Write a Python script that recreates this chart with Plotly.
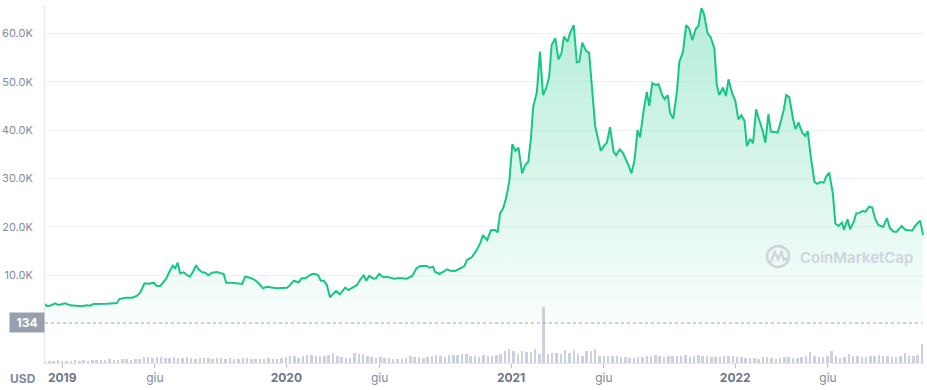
import plotly.graph_objects as go
import pandas as pd

# ---- price series (USD) ----
price_dates = [
    "2018-12-04","2018-12-07","2018-12-12","2018-12-21","2018-12-26","2019-01-06","2019-01-14","2019-01-25",
    "2019-02-02","2019-02-10","2019-02-16","2019-02-21","2019-03-04","2019-03-15","2019-03-31","2019-04-04",
    "2019-04-14","2019-04-25","2019-05-03","2019-05-08","2019-05-15","2019-05-22","2019-05-30","2019-06-04",
    "2019-06-10","2019-06-15","2019-06-19","2019-06-26","2019-06-30","2019-07-04","2019-07-08","2019-07-12",
    "2019-07-18","2019-07-23","2019-07-28","2019-08-02","2019-08-07","2019-08-11","2019-08-17","2019-08-22",
    "2019-08-27","2019-09-02","2019-09-10","2019-09-21","2019-09-25","2019-10-04","2019-10-18","2019-10-21",
    "2019-10-26","2019-11-03","2019-11-09","2019-11-17","2019-11-24","2019-11-30","2019-12-11","2019-12-17",
    "2020-01-02","2020-01-06","2020-01-13","2020-01-21","2020-01-26","2020-02-01","2020-02-06","2020-02-12",
    "2020-02-17","2020-02-22","2020-02-26","2020-03-02","2020-03-07","2020-03-12","2020-03-17","2020-03-22",
    "2020-03-28","2020-04-02","2020-04-06","2020-04-11","2020-04-17","2020-04-25","2020-04-30","2020-05-06",
    "2020-05-10","2020-05-15","2020-05-22","2020-05-26","2020-05-31","2020-06-07","2020-06-13","2020-06-24",
    "2020-07-04","2020-07-15","2020-07-24","2020-07-31","2020-08-06","2020-08-17","2020-08-21","2020-08-27",
    "2020-08-30","2020-09-06","2020-09-13","2020-09-18","2020-09-24","2020-10-02","2020-10-10","2020-10-17",
    "2020-10-21","2020-10-29","2020-11-06","2020-11-12","2020-11-16","2020-11-23","2020-11-29","2020-12-06",
    "2020-12-10","2020-12-14","2020-12-19","2020-12-24","2020-12-29","2021-01-03","2021-01-08","2021-01-13",
    "2021-01-19","2021-01-24","2021-01-29","2021-02-02","2021-02-06","2021-02-12","2021-02-17","2021-02-22",
    "2021-02-27","2021-03-04","2021-03-08","2021-03-14","2021-03-19","2021-03-24","2021-03-28","2021-04-03",
    "2021-04-07","2021-04-13","2021-04-18","2021-04-22","2021-04-27","2021-05-03","2021-05-08","2021-05-13",
    "2021-05-18","2021-05-23","2021-05-27","2021-06-02","2021-06-06","2021-06-11","2021-06-17","2021-06-21",
    "2021-06-27","2021-07-02","2021-07-06","2021-07-11","2021-07-16","2021-07-21","2021-07-26","2021-07-30",
    "2021-08-05","2021-08-10","2021-08-14","2021-08-19","2021-08-25","2021-08-29","2021-09-04","2021-09-08",
    "2021-09-13","2021-09-17","2021-09-22","2021-09-28","2021-10-02","2021-10-08","2021-10-13","2021-10-18",
    "2021-10-23","2021-10-29","2021-11-02","2021-11-07","2021-11-11","2021-11-17","2021-11-22","2021-11-28",
    "2021-12-02","2021-12-06","2021-12-12","2021-12-17","2021-12-21","2021-12-27","2022-01-01","2022-01-06",
    "2022-01-11","2022-01-16","2022-01-20","2022-01-25","2022-01-30","2022-02-04","2022-02-09","2022-02-15",
    "2022-02-19","2022-02-24","2022-02-28","2022-03-11","2022-03-16","2022-03-21","2022-03-25","2022-03-30",
    "2022-04-05","2022-04-09","2022-04-14","2022-04-20","2022-04-25","2022-04-29","2022-05-04","2022-05-10",
    "2022-05-15","2022-05-20","2022-05-25","2022-05-29","2022-06-03","2022-06-09","2022-06-13","2022-06-18",
    "2022-06-24","2022-06-27","2022-07-03","2022-07-07","2022-07-13","2022-07-17","2022-07-22","2022-07-28",
    "2022-08-01","2022-08-07","2022-08-12","2022-08-17","2022-08-22","2022-08-30","2022-09-05","2022-09-10",
    "2022-09-16","2022-09-21","2022-09-29","2022-10-05","2022-10-16","2022-10-21","2022-10-29","2022-11-03",
]
price_usd = [
    4070,3660,3720,4210,3860,4210,3800,3660,
    3590,3800,3720,4070,4070,4130,4280,5100,
    5370,5370,5790,6410,8350,8260,8470,7790,
    7850,8680,9240,11100,11980,11450,12600,10410,
    10620,10060,9710,10740,12070,11240,10620,10540,
    10000,10540,10680,10270,8470,8470,8350,8200,
    9710,9500,9170,8350,7310,7640,7440,7310,
    7440,7850,8880,8550,9380,9380,9860,10270,
    10270,10000,8880,8880,8000,5450,6140,6760,
    6070,6820,7440,6960,7440,8000,9030,10060,
    8880,9860,9300,9380,10270,9590,9710,9300,
    9440,9300,9860,11450,11920,11920,11570,11780,
    10740,10270,10740,11240,10950,10890,11450,11920,
    13160,13720,15230,16700,18300,17290,19300,19360,
    18880,22800,23840,26000,29340,37070,35740,36360,
    31070,32790,33470,37950,44800,47900,56200,47250,
    48600,51000,57600,58960,54600,55870,59300,58260,
    60100,61700,54000,54100,58060,56400,56000,48300,
    40700,37950,35740,36900,37400,40600,35500,34800,
    36000,35300,34200,32800,31070,33800,40000,38500,
    44200,47900,45000,49700,49300,49500,47250,46400,
    47250,43500,42400,47900,54100,56200,61700,61000,
    58600,61000,61500,65200,64100,60000,59200,56900,
    49300,47250,48800,47000,50500,47600,46100,42200,
    43100,41900,36700,38200,37300,44300,42100,39700,
    37400,43300,39700,39500,41700,44200,47250,46800,
    42400,40200,41600,39500,38800,39800,34500,29300,
    28900,29300,29100,30400,31200,26900,20700,20200,
    20900,19400,21600,19500,21100,22800,22900,23300,
    23100,24200,24000,21600,20400,20000,21800,19700,
    19000,19000,20200,19400,19200,20200,21300,18300,
]

# ---- weekly volume (billions USD) ----
volume_start = "2018-12-04"
volume_b = [
    8,7,8,9,7,8,8,9,8,9,8,9,10,
    10,11,12,10,11,13,12,11,14,13,
    19,20,18,21,19,17,18,20,
    16,17,19,18,15,17,16,17,15,16,17,15,16,
    14,15,17,16,15,15,14,15,16,15,15,17,
    20,23,24,18,22,26,26,25,23,22,27,33,
    24,21,17,18,32,30,29,23,20,18,19,17,
    16,15,15,14,16,22,20,19,17,20,22,
    28,24,20,26,27,26,30,29,
    22,24,20,26,23,22,
    27,30,40,47,40,30,40,37,38,
    46,30,
    188,
    30,33,32,30,43,35,44,30,22,
    40,40,47,24,22,23,
    22,23,21,20,18,17,19,21,23,25,27,22,21,23,
    25,22,24,27,21,24,26,23,22,21,19,20,22,24,22,
    21,20,17,16,18,15,19,20,17,15,18,19,20,16,18,
    19,24,38,22,20,
    20,22,41,24,18,19,
    30,22,24,19,20,22,24,26,23,25,21,20,22,34,25,24,27,64,
]
volume_marker = 134

# ---- axis ticks ----
price_ticks = [10000, 20000, 30000, 40000, 50000, 60000]
price_tick_labels = ["10.0K", "20.0K", "30.0K", "40.0K", "50.0K", "60.0K"]
date_ticks = ["2019-01-01", "2019-06-01", "2020-01-01", "2020-06-01",
              "2021-01-01", "2021-06-01", "2022-01-01", "2022-06-01"]
date_tick_labels = ["2019", "giu", "2020", "giu", "2021", "giu", "2022", "giu"]

GREEN = "#16c784"
GRAY = "#808a9d"
DARK = "#6b7587"

vol_dates = pd.date_range(volume_start, periods=len(volume_b), freq="7D")

fig = go.Figure()

fig.add_trace(go.Bar(
    x=vol_dates, y=volume_b, yaxis="y2",
    marker=dict(color="#cbd1de", line=dict(width=0)),
    width=4 * 86400000, hoverinfo="skip", showlegend=False,
))

fig.add_trace(go.Scatter(
    x=pd.to_datetime(price_dates), y=price_usd, mode="lines",
    line=dict(color=GREEN, width=2),
    fill="tozeroy",
    fillgradient=dict(type="vertical", start=0, stop=65000,
                      colorscale=[[0, "rgba(22,199,132,0.02)"],
                                  [1, "rgba(22,199,132,0.32)"]]),
    showlegend=False,
))

tick_text = []
for lab in date_tick_labels:
    if lab.isdigit():
        tick_text.append(f"<b><span style='color:{DARK}'>{lab}</span></b>")
    else:
        tick_text.append(lab)

fig.update_layout(
    width=927, height=390,
    margin=dict(l=45, r=2, t=5, b=27, autoexpand=False),
    paper_bgcolor="white", plot_bgcolor="white",
    font=dict(family="Inter, Roboto, sans-serif", color=GRAY, size=12),
    bargap=0,
    xaxis=dict(
        type="date", range=["2018-12-04", "2022-11-06"],
        showgrid=False, zeroline=False, automargin=False,
        showline=True, linecolor="#e4e7ec", linewidth=1,
        ticks="outside", ticklen=4, tickcolor="#b8bec9",
        tickvals=date_ticks, ticktext=tick_text,
        tickfont=dict(size=12, color=GRAY),
    ),
    yaxis=dict(
        range=[-8120, 65850], automargin=False,
        tickvals=price_ticks, ticktext=price_tick_labels,
        tickfont=dict(size=11, color=GRAY),
        showgrid=True, gridcolor="#eff2f5", gridwidth=1,
        zeroline=False, showline=True, linecolor="#e4e7ec",
        ticks="", ticklabelstandoff=9,
    ),
    yaxis2=dict(range=[0, 1199], overlaying="y", visible=False),
)

# dotted marker line and its label
fig.add_shape(type="line", xref="paper", x0=0, x1=0.997, yref="y2",
              y0=volume_marker, y1=volume_marker,
              line=dict(color="#9aa1ae", width=1, dash="dot"))
fig.add_annotation(xref="paper", x=0, xanchor="right", yref="y2", y=volume_marker,
                   text=f"<b>{volume_marker}</b>", showarrow=False,
                   bgcolor="#989fae", font=dict(color="white", size=12),
                   width=30, height=15, borderpad=2)

# USD label
fig.add_annotation(xref="paper", x=-0.025, xanchor="center", yref="paper", y=-0.042,
                   yanchor="middle", text="<b>USD</b>", showarrow=False,
                   font=dict(size=12, color=GRAY))

# watermark
WM = "#cfd3de"
fig.add_shape(type="circle", xref="paper", yref="paper",
              x0=0.8205, x1=0.8455, y0=0.2682, y1=0.3268,
              line=dict(color=WM, width=2.5))
fig.add_shape(type="path", xref="paper", yref="paper",
              path="M 0.8250 0.2821 L 0.8290 0.3101 L 0.8330 0.2905 L 0.8369 0.3101 L 0.8398 0.2877 L 0.8432 0.2933",
              line=dict(color=WM, width=2.2))
fig.add_annotation(xref="paper", x=0.8557, xanchor="left", yref="paper", y=0.2933,
                   yanchor="middle", text="CoinMarketCap", showarrow=False,
                   font=dict(size=15, color=WM, weight=600))

# remove the default page margin so the 927x390 figure fills the window exactly
fig.write_html("out.html",
               config={"displayModeBar": False},
               post_script="document.body.style.margin='0';document.body.style.overflow='hidden';")
